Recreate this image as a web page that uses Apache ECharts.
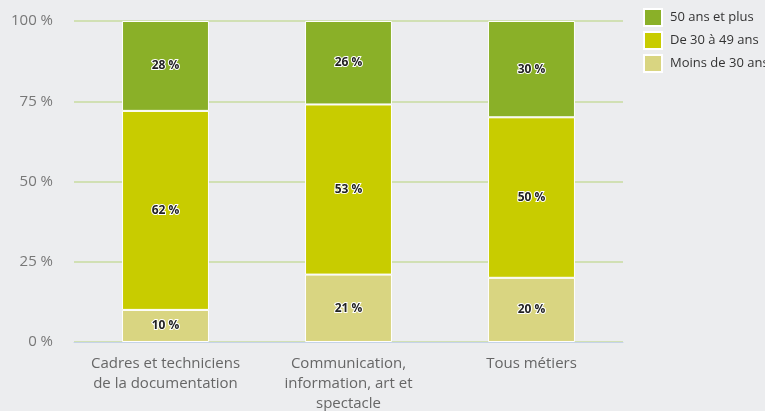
<!DOCTYPE html>
<html><head><meta charset="utf-8">
<script src="https://cdn.jsdelivr.net/npm/echarts@6/dist/echarts.min.js"></script>
<style>html,body{margin:0;padding:0;background:#ecedef;}#c{width:765px;height:411px;}</style>
</head><body><div id="c"></div>
<script>
const categories = ['Cadres et techniciens\nde la documentation', 'Communication,\ninformation, art et\nspectacle', 'Tous métiers'];
const moins30 = [10, 21, 20];
const de30a49 = [62, 53, 50];
const plus50 = [28, 26, 30];
const yTicks = [0, 25, 50, 75, 100];

const label = {
  show: true, position: 'inside', formatter: p => p.value + ' %',
  color: '#222', fontSize: 12, fontWeight: 'bold', fontFamily: 'Open Sans',
  textBorderColor: '#fff', textBorderWidth: 2
};
function s(name, data, color) {
  return { name, type: 'bar', stack: 'a', data, barWidth: '47.5%',
    itemStyle: { color, borderColor: '#fff', borderWidth: 1 }, label };
}
const chart = echarts.init(document.getElementById('c'));
chart.setOption({
  backgroundColor: '#ecedef',
  animation: false,
  grid: { left: 74, right: 142, top: 21, bottom: 69, outerBoundsMode: 'none', containLabel: false },
  legend: {
    left: 643, top: 8, padding: 0, orient: 'vertical', itemWidth: 18, itemHeight: 17, itemGap: 4,
    icon: 'rect',
    textStyle: { fontSize: 13, color: '#333', fontFamily: 'Open Sans', padding: [0, 0, 0, 3] },
    data: ['50 ans et plus', 'De 30 à 49 ans', 'Moins de 30 ans']
  },
  xAxis: {
    type: 'category', data: categories,
    axisLine: { lineStyle: { color: '#c5d3e8' } }, axisTick: { show: false },
    axisLabel: { fontSize: 15, color: '#666', fontFamily: 'Open Sans', margin: 12, lineHeight: 20, interval: 0 }
  },
  yAxis: {
    type: 'value', min: 0, max: 100, interval: 25,
    axisLabel: { formatter: v => yTicks.includes(v) ? v + ' %' : '', fontSize: 15, color: '#777', fontFamily: 'Open Sans', margin: 21 },
    splitLine: { lineStyle: { color: '#c8dba0', width: 1.5 } },
    axisLine: { show: false }, axisTick: { show: false }
  },
  series: [
    s('Moins de 30 ans', moins30, '#d9d581'),
    s('De 30 à 49 ans', de30a49, '#c8cc00'),
    s('50 ans et plus', plus50, '#8ab028')
  ]
});
</script></body></html>
